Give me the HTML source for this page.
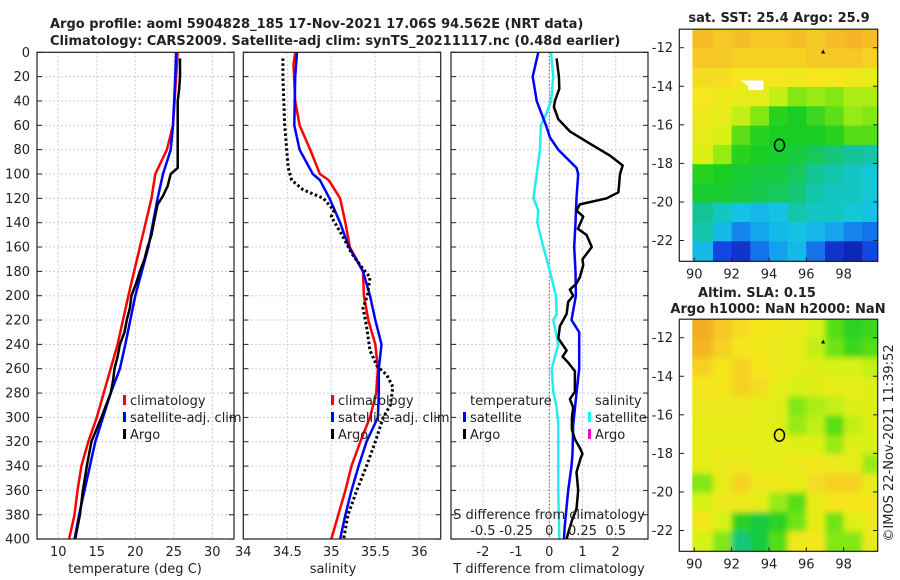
<!DOCTYPE html>
<html><head><meta charset="utf-8"><style>
html,body{margin:0;padding:0;background:#fff;}
svg{display:block;font-family:"DejaVu Sans","Liberation Sans",sans-serif;}
</style></head><body>
<svg id="c" width="900" height="580" viewBox="0 0 900 580" xmlns="http://www.w3.org/2000/svg">
<defs>
<filter id="blur" x="-10%" y="-10%" width="120%" height="120%"><feGaussianBlur stdDeviation="3"/></filter>
<clipPath id="slaclip"><rect x="692.3" y="319.3" width="185.4" height="231.7"/></clipPath>
</defs>
</svg>
<script>
// ---------- data ----------
const depthTicks=[0,20,40,60,80,100,120,140,160,180,200,220,240,260,280,300,320,340,360,380,400];
const tempTicks=[10,15,20,25,30];
const salTicks=[34,34.5,35,35.5,36];
const salTickLabels=["34","34.5","35","35.5","36"];
const tdTicks=[-2,-1,0,1,2];
const sdTicks=[-0.5,-0.25,0,0.25,0.5];
const sdTickLabels=["-0.5","-0.25","0","0.25","0.5"];

const tClimD=[0,60,80,100,120,160,200,240,280,300,320,340,360,380,400];
const tClimV=[25.5,24.9,24.1,22.6,22.1,20.6,19.1,17.7,15.9,15.0,13.9,13.0,12.5,12.1,11.4];
const tSatD=[0,20,60,80,100,120,160,200,240,260,280,300,320,340,360,380,400];
const tSatV=[25.3,25.2,24.9,24.6,23.6,22.9,21.7,20.0,18.7,18.0,16.8,15.8,14.8,14.1,13.4,12.7,12.1];
const tArgoD=[5,20,30,40,60,95,100,110,118,125,140,150,160,170,180,190,200,210,220,230,240,250,260,270,280,300,320,340,360,380,400];
const tArgoV=[25.8,25.8,25.7,25.5,25.5,25.5,24.6,24.2,23.6,22.9,22.4,22.1,21.6,21.2,20.6,20.1,19.5,19.3,18.9,18.6,18.0,17.7,17.3,17.1,16.8,15.6,14.3,13.7,13.2,12.8,12.2];

const sClimD=[0,10,40,60,80,100,105,120,140,160,180,200,220,240,260,280,300,320,340,360,380,400];
const sClimV=[34.59,34.57,34.59,34.64,34.76,34.87,34.97,35.1,35.16,35.21,35.36,35.37,35.42,35.5,35.53,35.51,35.44,35.33,35.23,35.16,35.08,35.0];
const sSatD=[0,20,60,80,100,105,120,140,160,180,200,220,240,260,280,300,320,340,360,380,400];
const sSatV=[34.61,34.59,34.58,34.64,34.79,34.87,34.98,35.1,35.2,35.36,35.44,35.5,35.57,35.54,35.54,35.53,35.4,35.31,35.23,35.16,35.1];
const sArgoD=[5,20,60,95,100,105,113,120,130,135,150,165,175,185,200,210,225,245,258,265,275,290,300,320,340,360,380,400];
const sArgoV=[34.45,34.45,34.47,34.51,34.53,34.55,34.68,34.91,35.03,35.0,35.12,35.23,35.33,35.44,35.41,35.36,35.4,35.44,35.52,35.63,35.7,35.67,35.59,35.5,35.4,35.29,35.19,35.14];

const dTSatD=[0,20,40,60,70,80,95,100,120,140,160,180,200,220,230,240,260,280,306,330,340,360,388,400];
const dTSatV=[-0.33,-0.5,-0.38,-0.1,0.02,0.27,0.82,0.87,0.82,0.79,0.75,0.79,0.8,0.67,0.9,0.9,0.9,0.82,0.72,0.7,0.67,0.57,0.47,0.44];
const dSSatD=[0,20,40,50,60,80,100,120,130,140,160,180,200,215,220,240,260,279,292,306,330,360,400];
const dSSatV=[0.013,0.03,0.013,-0.02,-0.063,-0.07,-0.095,-0.12,-0.083,-0.09,-0.045,0.005,0.05,0.056,0.03,0.068,0.018,0.03,0.056,0.068,0.068,0.068,0.075];
const dTArgoD=[5,20,30,40,45,55,65,75,85,93,100,115,120,125,130,135,145,150,160,170,175,185,190,195,200,205,215,225,235,245,250,255,262,279,285,292,300,310,318,325,330,333,345,360,375,385,395,400];
const dTArgoV=[0.22,0.29,0.3,0.17,0.14,0.27,0.62,1.22,1.83,2.21,2.13,2.08,1.73,0.92,0.82,1.02,0.86,1.12,1.28,1.0,1.02,0.92,0.82,0.62,0.72,0.57,0.52,0.32,0.27,0.52,0.4,0.57,0.77,0.77,0.62,0.72,0.68,0.68,0.77,0.92,1.0,0.95,0.82,0.87,0.82,0.68,0.57,0.52];

const mapLonTicks=[90,92,94,96,98];
const mapLatTicks=[-12,-14,-16,-18,-20,-22];
const sstGrid=[
[0.84,0.82,0.84,0.82,0.82,0.84,0.82,0.84,0.86,0.84],
[0.82,0.82,0.8,0.8,0.8,0.8,0.82,0.82,0.82,0.8],
[0.78,0.78,0.76,0.76,0.76,0.74,0.76,0.76,0.74,0.72],
[0.76,0.74,0.72,0.72,0.66,0.6,0.62,0.6,0.64,0.64],
[0.74,0.72,0.66,0.6,0.5,0.48,0.52,0.56,0.62,0.6],
[0.72,0.68,0.56,0.5,0.48,0.48,0.48,0.5,0.55,0.55],
[0.7,0.62,0.5,0.48,0.47,0.46,0.44,0.42,0.4,0.38],
[0.5,0.48,0.47,0.46,0.46,0.44,0.4,0.38,0.36,0.34],
[0.47,0.47,0.46,0.45,0.44,0.42,0.38,0.36,0.36,0.34],
[0.4,0.36,0.32,0.3,0.32,0.38,0.36,0.36,0.34,0.32],
[0.38,0.3,0.22,0.26,0.3,0.32,0.3,0.26,0.22,0.2],
[0.3,0.15,0.1,0.2,0.25,0.3,0.2,0.1,0.06,0.15]];
const slaGrid=[
[0.88,0.82,0.78,0.76,0.75,0.73,0.68,0.55,0.5,0.52],
[0.86,0.8,0.76,0.75,0.74,0.72,0.66,0.58,0.52,0.55],
[0.8,0.76,0.8,0.76,0.74,0.72,0.7,0.68,0.68,0.66],
[0.76,0.76,0.8,0.78,0.72,0.68,0.7,0.72,0.72,0.7],
[0.74,0.74,0.74,0.72,0.7,0.6,0.64,0.66,0.7,0.7],
[0.72,0.72,0.72,0.72,0.7,0.62,0.66,0.55,0.66,0.7],
[0.72,0.72,0.72,0.72,0.72,0.7,0.7,0.62,0.7,0.68],
[0.72,0.74,0.74,0.72,0.72,0.74,0.76,0.74,0.72,0.62],
[0.6,0.72,0.8,0.74,0.74,0.72,0.78,0.8,0.8,0.72],
[0.68,0.74,0.74,0.72,0.62,0.55,0.72,0.76,0.76,0.76],
[0.76,0.68,0.5,0.46,0.5,0.58,0.72,0.58,0.7,0.74],
[0.68,0.6,0.42,0.46,0.55,0.74,0.76,0.6,0.6,0.72]];
const argoLon=94.562, argoLat=-17.06;

// ---------- helpers ----------
const NS="http://www.w3.org/2000/svg";
const svg=document.getElementById('c');
function el(tag,attrs,parent){const e=document.createElementNS(NS,tag);for(const k in attrs)e.setAttribute(k,attrs[k]);(parent||svg).appendChild(e);return e;}
function txt(s,x,y,size,anchor,weight,parent){const t=el('text',{x:x,y:y,'font-size':size,'text-anchor':anchor||'middle','font-weight':weight||'normal',fill:'#222'},parent);t.textContent=s;return t;}

const Y=d=>52.3+d*1.217;
const xT=v=>58.3+(v-10)*7.7;
const xS=v=>243.3+(v-34)*88;
const xTD=v=>549.3+v*33.2;
const xSD=v=>549.3+v*132.8;

const panels=[{x0:37,x1:234,name:'temperature-panel'},{x0:243.3,x1:440.7,name:'salinity-panel'},{x0:451,x1:648,name:'difference-panel'}];
const Y0=52.3,Y1=539;

function panelFrame(p,xticks,xf){
  const g=el('g',{});
  
  
  xticks.forEach(v=>{const x=xf(v);if(x>p.x0+1&&x<p.x1-1)el('line',{x1:x,x2:x,y1:Y0,y2:Y1,stroke:'#c8cde8','stroke-width':1,'stroke-dasharray':'2,2'},g);});
  depthTicks.forEach(d=>{const y=Y(d);el('line',{x1:p.x0,x2:p.x1,y1:y,y2:y,stroke:'#c8cde8','stroke-width':1,'stroke-dasharray':'2,2'},g);
    el('line',{x1:p.x0,x2:p.x0+5,y1:y,y2:y,stroke:'#222'},g);el('line',{x1:p.x1-5,x2:p.x1,y1:y,y2:y,stroke:'#222'},g);});
  return g;
}
function line(D,V,xf,color,w,dash,name,g){
  let pts=D.map((d,i)=>xf(V[i]).toFixed(1)+','+Y(d).toFixed(1)).join(' ');
  const a={points:pts,fill:'none',stroke:color,'stroke-width':w,'stroke-linejoin':'round'};
  if(dash)a['stroke-dasharray']=dash;
  const e=el('polyline',a,g);
  
  
  return e;
}
function box(p,g){el('rect',{x:p.x0,y:Y0,width:p.x1-p.x0,height:Y1-Y0,fill:'none',stroke:'#222','stroke-width':1.2},g);}

const t1=txt('Argo profile: aoml 5904828_185 17-Nov-2021 17.06S 94.562E (NRT data)',50,28,13,'start','bold');

const t2=txt('Climatology: CARS2009. Satellite-adj clim: synTS_20211117.nc (0.48d earlier)',50,45,13,'start','bold');


const yl=el('g',{});
depthTicks.forEach(d=>txt(String(d),30,Y(d)+4.5,13,'end','normal',yl));

let g1=panelFrame(panels[0],tempTicks,xT);
line(tClimD,tClimV,xT,'#ff0000',2.5,null,'temp-climatology-line',g1);
line(tSatD,tSatV,xT,'#0000ff',2.5,null,'temp-satellite-line',g1);
line(tArgoD,tArgoV,xT,'#000000',2.5,null,'temp-argo-line',g1);
box(panels[0],g1);
tempTicks.forEach(v=>txt(String(v),xT(v),556,13,'middle','normal',g1));
let xl=txt('temperature (deg C)',135,573,13);

let g2=panelFrame(panels[1],salTicks,xS);
line(sClimD,sClimV,xS,'#ff0000',2.5,null,'sal-climatology-line',g2);
line(sSatD,sSatV,xS,'#0000ff',2.5,null,'sal-satellite-line',g2);
line(sArgoD,sArgoV,xS,'#000000',3,'2.5,2.5','sal-argo-line',g2);
box(panels[1],g2);
salTicks.forEach((v,i)=>txt(salTickLabels[i],xS(v),556,13,'middle','normal',g2));
xl=txt('salinity',333,573,13);

let g3=panelFrame(panels[2],tdTicks,xTD);
el('line',{x1:xTD(0),x2:xTD(0),y1:Y0,y2:Y1,stroke:'#6b6b2a','stroke-width':1,'stroke-dasharray':'1.5,2'},g3);
line(dSSatD,dSSatV,xSD,'#22eeee',2.5,null,'sal-diff-satellite-line',g3);
line(dTSatD,dTSatV,xTD,'#0000ff',2.5,null,'temp-diff-satellite-line',g3);
line(dTArgoD,dTArgoV,xTD,'#000000',2.5,null,'temp-diff-argo-line',g3);
box(panels[2],g3);
tdTicks.forEach(v=>txt(String(v),xTD(v),556,13,'middle','normal',g3));
xl=txt('T difference from climatology',549,573,13);
let sdt=txt('S difference from climatology',549,519,13);
sdTicks.forEach((v,i)=>txt(sdTickLabels[i],xSD(v),535,13,'middle','normal',g3));

function legend(x,y,color,label,name){
  const g=el('g',{});
  el('rect',{x:x,y:y-10,width:3,height:10,fill:color},g);
  txt(label,x+7,y,13,'start','normal',g);
}
legend(123,405,'#ff0000','climatology','legend-temp-climatology');
legend(123,422,'#0000ff','satellite-adj. clim','legend-temp-satellite');
legend(123,439,'#000000','Argo','legend-temp-argo');
legend(331,405,'#ff0000','climatology','legend-sal-climatology');
legend(331,422,'#0000ff','satellite-adj. clim','legend-sal-satellite');
legend(331,439,'#000000','Argo','legend-sal-argo');
txt('temperature',470,405,13,'start');
legend(463,422,'#0000ff','satellite','legend-tdiff-satellite');
legend(463,439,'#000000','Argo','legend-tdiff-argo');
txt('salinity',595,405,13,'start');
legend(588,422,'#22eeee','satellite','legend-sdiff-satellite');
legend(588,439,'#ff00cc','Argo','legend-sdiff-argo');

// ---------- maps ----------
const stops=[[0,[10,20,150]],[0.15,[20,70,230]],[0.25,[20,160,240]],[0.33,[20,200,225]],[0.4,[20,195,150]],[0.48,[25,205,35]],[0.58,[110,228,20]],[0.68,[215,242,20]],[0.76,[245,230,30]],[0.85,[245,185,40]],[1,[240,120,20]]];
function cmap(v){for(let i=1;i<stops.length;i++){if(v<=stops[i][0]){const a=stops[i-1],b=stops[i],t=(v-a[0])/(b[0]-a[0]);return 'rgb('+a[1].map((c,k)=>Math.round(c+(b[1][k]-c)*t)).join(',')+')';}}return 'rgb(240,120,20)';}

function drawMap(m){
  const g=el('g',{});
  const lx=v=>694.3+(v-90)*18.67;
  const ly=v=>m.y12+(-12-v)*19.28;
  const top=-11.04, bot=-23.08;
  const outer=m.smooth?el('g',{'clip-path':'url(#slaclip)'},g):g;
  const cg=el('g',m.smooth?{filter:'url(#blur)'}:{},outer);
  
  const ext=m.smooth?1.2:0;
  const nr=m.grid.length;
  m.grid.forEach((row,r)=>row.forEach((v,c)=>{
    const la0=r==0?top+ext:top-r, la1=(r==nr-1)?bot-ext:top-r-1;
    const lo0=c==0?89.9-ext:90+c, lo1=(c==row.length-1)?99.83+ext:91+c;
    el('rect',{x:lx(lo0).toFixed(1),y:ly(la0).toFixed(1),width:(lx(lo1)-lx(lo0)+0.6).toFixed(1),height:(ly(la1)-ly(la0)+0.6).toFixed(1),fill:cmap(v)},cg);
  }));
  if(m.white)el('path',{d:'M'+lx(92.5)+' '+ly(-13.7)+'h'+(lx(93.7)-lx(92.5))+'v'+(ly(-14.2)-ly(-13.7))+'h-'+(lx(93.7)-lx(92.9))+'v-4z',fill:'#fff'},g);
  el('rect',{x:679.3,y:ly(top),width:198.4,height:ly(bot)-ly(top),fill:'none',stroke:'#222','stroke-width':1.2},g);
  mapLatTicks.forEach(v=>{const y=ly(v);el('line',{x1:679.3,x2:684,y1:y,y2:y,stroke:'#222'},g);el('line',{x1:873,x2:877.7,y1:y,y2:y,stroke:'#222'},g);txt(String(v),673,y+4.5,13,'end','normal',g);});
  mapLonTicks.forEach(v=>{const x=lx(v);el('line',{x1:x,x2:x,y1:ly(bot),y2:ly(bot)-4,stroke:'#222'},g);txt(String(v),x,ly(bot)+17,13,'middle','normal',g);});
  const ci=el('ellipse',{cx:lx(argoLon),cy:ly(argoLat),rx:5,ry:6,fill:'none',stroke:'#000','stroke-width':1.5},g);
  
  el('path',{d:'M'+(lx(96.9)-2)+' '+(ly(-12.2)+2)+'l2,-4l2,4z',fill:'#000'},g);
}
drawMap({name:'sst-map',grid:sstGrid,y12:47.7,white:true,smooth:false});
drawMap({name:'sla-map',grid:slaGrid,y12:337.7,white:false,smooth:true});
let mt=txt('sat. SST: 25.4 Argo: 25.9',779,22,13,'middle','bold');
mt=txt('Altim. SLA: 0.15',757,297,13,'middle','bold');
mt=txt('Argo h1000: NaN h2000: NaN',778,313,13,'middle','bold');
const cp=el('text',{x:0,y:0,'font-size':13,'text-anchor':'middle',fill:'#222',transform:'translate(893,443) rotate(-90)'});
cp.textContent='©IMOS 22-Nov-2021 11:39:52';

</script>
</body></html>
